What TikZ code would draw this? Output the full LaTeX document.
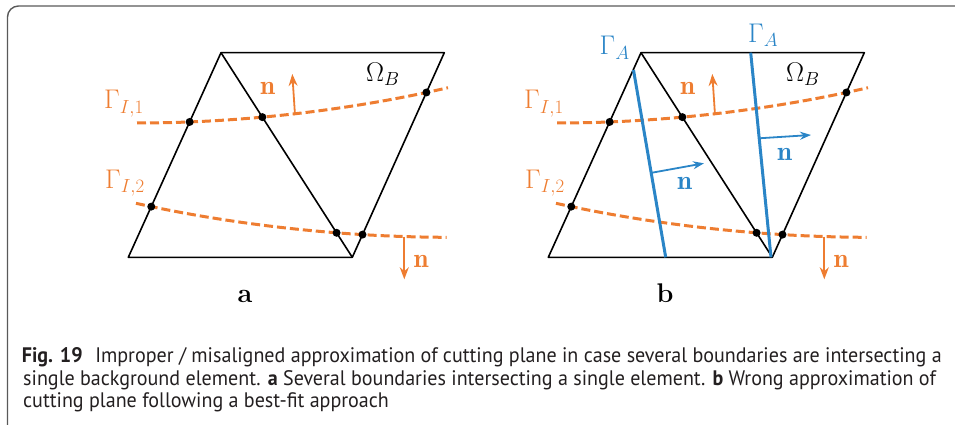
\RequirePackage{fix-cm}
\documentclass[tikz,border=0pt]{standalone}
\usepackage{fontspec}
\usepackage{amsmath}
\usetikzlibrary{arrows.meta, intersections}
\newfontfamily\capfont[FakeStretch=0.955]{PT Sans}
\definecolor{ifaceorange}{HTML}{EE7D31}
\definecolor{cutblue}{HTML}{2A85C7}
\definecolor{captext}{HTML}{231F20}

\begin{document}
\begin{tikzpicture}[x=1pt, y=-1pt,
        elem/.style={line width=1.6pt, line join=round},
        iface/.style={ifaceorange, line width=3pt, dash pattern=on 9pt off 4pt},
        cut/.style={cutblue, line width=3pt},
        normal/.style={-{Stealth[length=12pt, width=9pt]}, line width=1.8pt},
        dot/.style={fill, circle, inner sep=0pt, minimum size=8pt},
        lbl/.style={font=\fontsize{27}{32}\selectfont, inner sep=0pt, anchor=base west},
        tag/.style={font=\fontsize{27}{32}\selectfont\bfseries, inner sep=0pt, anchor=base},
        capline/.style={font=\capfont\fontsize{21}{24}\selectfont, text=captext, inner sep=0pt, anchor=base west}
    ]
        \useasboundingbox (0,0) rectangle (955,425);
        \clip (0,0) rectangle (955,425);

        % Frame
        \draw[line width=1.4pt, gray!70!black, rounded corners=11pt] (7.5,6) rectangle (990,460);

        \foreach \p/\s in {a/0, b/420} {
            \begin{scope}[xshift=\s]
                % Element
                \coordinate (\p-bl) at (128.3,257.3);
                \coordinate (\p-tl) at (221,52.7);
                \coordinate (\p-tr) at (444.3,52.7);
                \coordinate (\p-br) at (352.3,257.3);
                \draw[elem] (\p-bl) -- (\p-tl) -- (\p-tr) -- (\p-br) -- cycle;
                \draw[elem] (\p-tl) -- (\p-br);
                \path[name path=left] (\p-bl) -- (\p-tl);
                \path[name path=diag] (\p-tl) -- (\p-br);
                \path[name path=right] (\p-tr) -- (\p-br);

                % Interfaces
                \coordinate (\p-g1s) at (137,123);
                \coordinate (\p-g1e) at (448,87.7);
                \coordinate (\p-g2s) at (136,203.3);
                \coordinate (\p-g2e) at (446.7,237.3);
                \draw[iface, name path=g1] (\p-g1s) .. controls (250,123) and (360,108) .. (\p-g1e);
                \draw[iface, name path=g2] (\p-g2s) .. controls (220,222) and (330,237) .. (\p-g2e);

                % Normals
                \coordinate (\p-n1s) at (295,115);
                \coordinate (\p-n1e) at (292.3,74);
                \coordinate (\p-n2s) at (404.3,236.5);
                \coordinate (\p-n2e) at (404.3,279.3);
                \draw[normal, ifaceorange] (\p-n1s) -- (\p-n1e);
                \draw[normal, ifaceorange] (\p-n2s) -- (\p-n2e);

                % Intersection points
                \foreach \e in {left, diag, right} {
                    \path[name intersections={of=g1 and \e, name=x}]
                        node[dot] (\p-g1-\e) at (x-1) {};
                    \path[name intersections={of=g2 and \e, name=y}]
                        node[dot] (\p-g2-\e) at (y-1) {};
                }

                % Labels
                \node[lbl, ifaceorange] (\p-g1l) at (104,109) {$\Gamma_{I,1}$};
                \node[lbl, ifaceorange] (\p-g2l) at (105,188.3) {$\Gamma_{I,2}$};
                \node[lbl, ifaceorange] (\p-n1l) at (260,95) {$\mathbf{n}$};
                \node[lbl, ifaceorange] (\p-n2l) at (413.5,267.7) {$\mathbf{n}$};
                \node[lbl] (\p-om) at (366,81.7) {$\Omega_B$};
                \node[tag] (\p-tag) at (245,302.2) {\p};
            \end{scope}
        }

        % Best-fit cutting planes
        \coordinate (c1t) at (633.5,70);
        \coordinate (c1b) at (665.7,257.3);
        \coordinate (c2t) at (750.7,52.7);
        \coordinate (c2b) at (771,257.3);
        \draw[cut] (c1t) -- (c1b);
        \draw[cut] (c2t) -- (c2b);
        \coordinate (c1ns) at (652,172.7);
        \coordinate (c1ne) at (704,163.3);
        \coordinate (c2ns) at (759,138.3);
        \coordinate (c2ne) at (811,135);
        \draw[normal, cutblue, -{Stealth[length=11pt, width=8pt]}] (c1ns) -- (c1ne);
        \draw[normal, cutblue, -{Stealth[length=11pt, width=8pt]}] (c2ns) -- (c2ne);
        \node[lbl, cutblue] (c1l) at (599.5,55) {$\Gamma_A$};
        \node[lbl, cutblue] (c2l) at (748,42.7) {$\Gamma_A$};
        \node[lbl, cutblue] (c1nl) at (677,189.3) {$\mathbf{n}$};
        \node[lbl, cutblue] (c2nl) at (777,160.7) {$\mathbf{n}$};

        % Caption
        \node[capline] (cap1) at (21.7,362.7) {\textbf{Fig. 19}\hspace{0.6em}Improper / misaligned approximation of cutting plane in case several boundaries are intersecting a};
        \node[capline] (cap2) at (23,385) {single background element. \textbf{a} Several boundaries intersecting a single element. \textbf{b} Wrong approximation of};
        \node[capline] (cap3) at (23,407) {cutting plane following a best-fit approach};
    \end{tikzpicture}
\end{document}
